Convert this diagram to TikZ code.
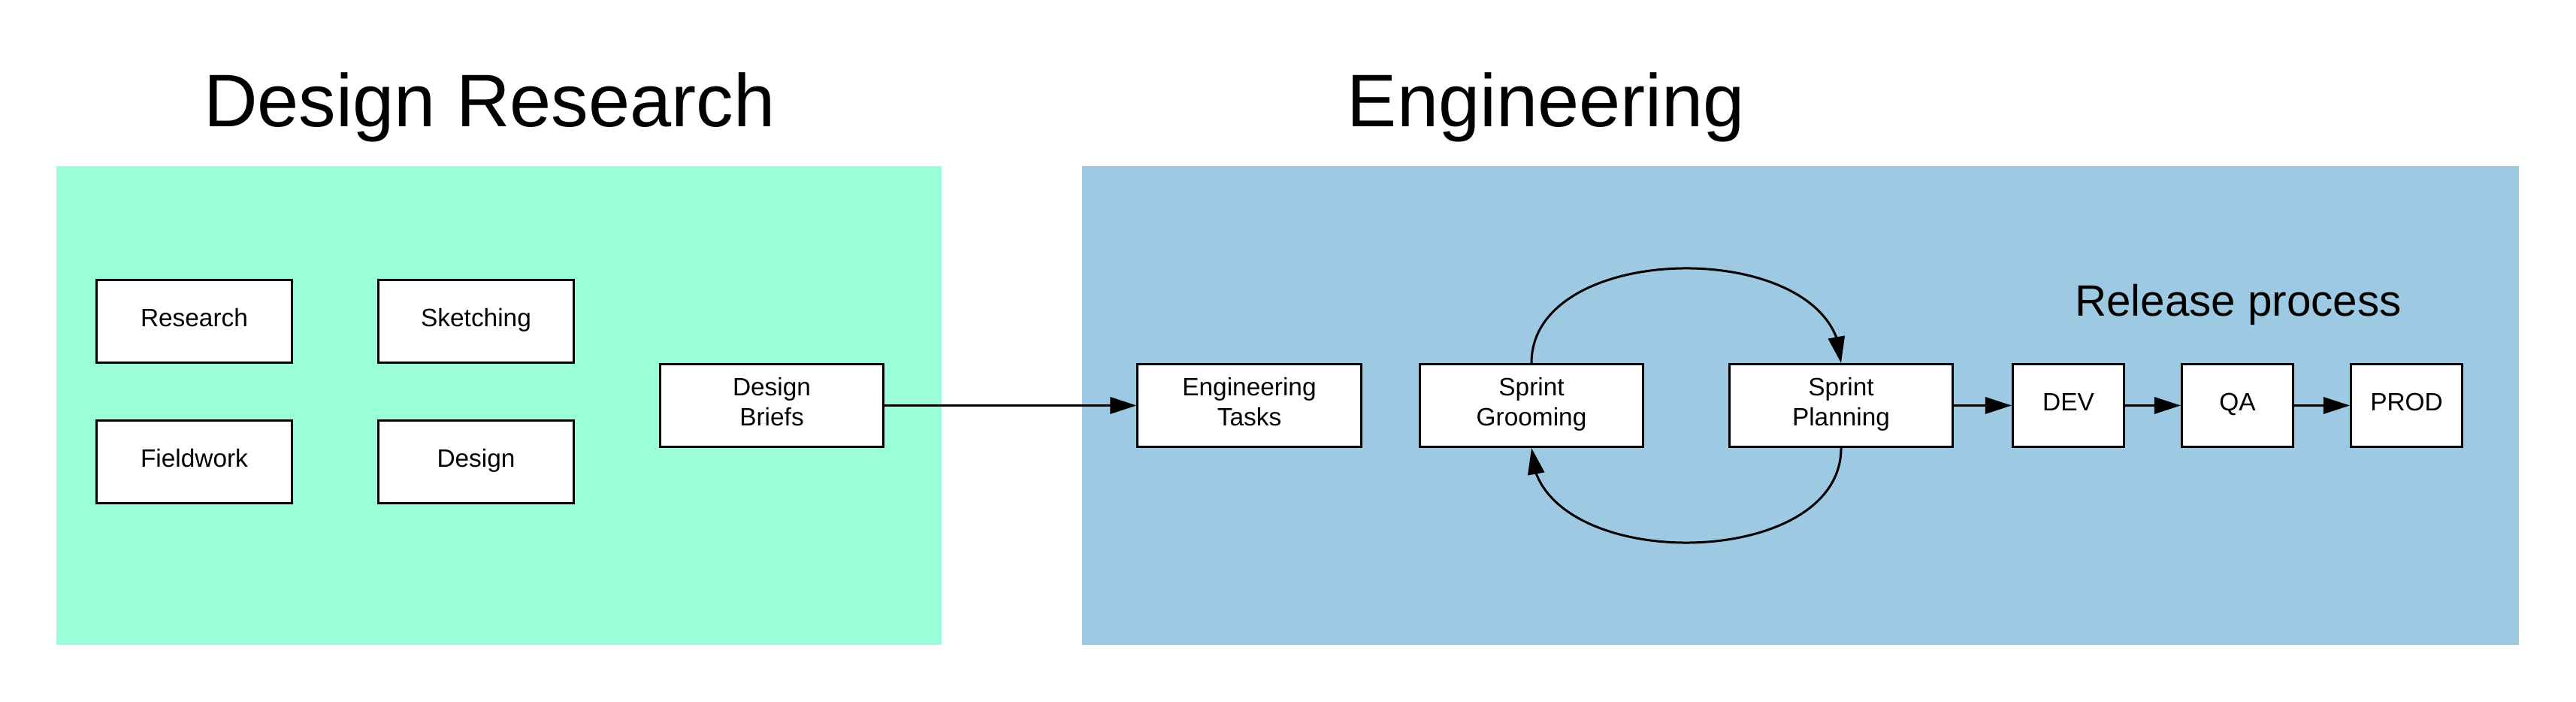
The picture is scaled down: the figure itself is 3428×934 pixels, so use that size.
\documentclass[tikz,border=0pt]{standalone}
\usepackage{fontspec}
\setmainfont{Liberation Sans}
\usetikzlibrary{arrows.meta,bending}
\definecolor{dgreen}{HTML}{9AFFD8}
\definecolor{eblue}{HTML}{9DC9E2}
\begin{document}
\begin{tikzpicture}[x=0.01cm,y=-0.01cm,
  box/.style={draw=black,fill=white,line width=0.03cm,inner sep=0pt,
    minimum width=2.60cm,minimum height=1.10cm,
    font=\fontsize{9.5pt}{11.4pt}\selectfont,align=center},
  one/.style={text height=0.75em,text depth=0.36em},
  two/.style={text depth=0.27em},
  wide/.style={minimum width=2.97cm},
  small/.style={minimum width=1.48cm},
  conn/.style={line width=0.03cm,-{Triangle[length=0.35cm,width=0.22cm]}},
  title/.style={font=\fontsize{28.2pt}{34pt}\selectfont,anchor=base,inner sep=0pt},
  sub/.style={font=\fontsize{16.6pt}{20pt}\selectfont,anchor=base,inner sep=0pt},
]
\useasboundingbox (0,0) rectangle (3428,934);
\fill[white] (0,0) rectangle (3428,934);
\fill[dgreen] (75,221) rectangle (1253,858);
\fill[eblue] (1440,221) rectangle (3352,858);
\node[title] (t1) at (651.5,169) {Design Research};
\node[title] (t2) at (2057.5,169) {Engineering};
\node[sub] (t3) at (2978.5,421) {Release process};
% design research boxes
\node[box,one] (research) at (258.5,427.5) {Research};
\node[box,one] (sketch) at (633.5,427.5) {Sketching};
\node[box,one] (field) at (258.5,614.5) {Fieldwork};
\node[box,one] (design) at (633.5,614.5) {Design};
\node[box,wide,two] (briefs) at (1027,539.5) {Design\\Briefs};
% engineering boxes
\node[box,wide,two] (tasks) at (1662.5,539.5) {Engineering\\Tasks};
\node[box,wide,two] (groom) at (2038,539.5) {Sprint\\Grooming};
\node[box,wide,two] (plan) at (2450,539.5) {Sprint\\Planning};
\node[box,small,one] (dev) at (2752.5,539.5) {DEV};
\node[box,small,one] (qa) at (2977.5,539.5) {QA};
\node[box,small,one] (prod) at (3202.5,539.5) {PROD};
% connectors
\draw[conn] (briefs.east) -- (tasks.west);
\draw[conn] (plan.east) -- (dev.west);
\draw[conn] (dev.east) -- (qa.west);
\draw[conn] (qa.east) -- (prod.west);
\draw[conn] (groom.north) .. controls +(0,-168) and +(0,-168) .. (plan.north);
\draw[conn] (plan.south) .. controls +(0,168) and +(0,168) .. (groom.south);
\end{tikzpicture}
\end{document}
